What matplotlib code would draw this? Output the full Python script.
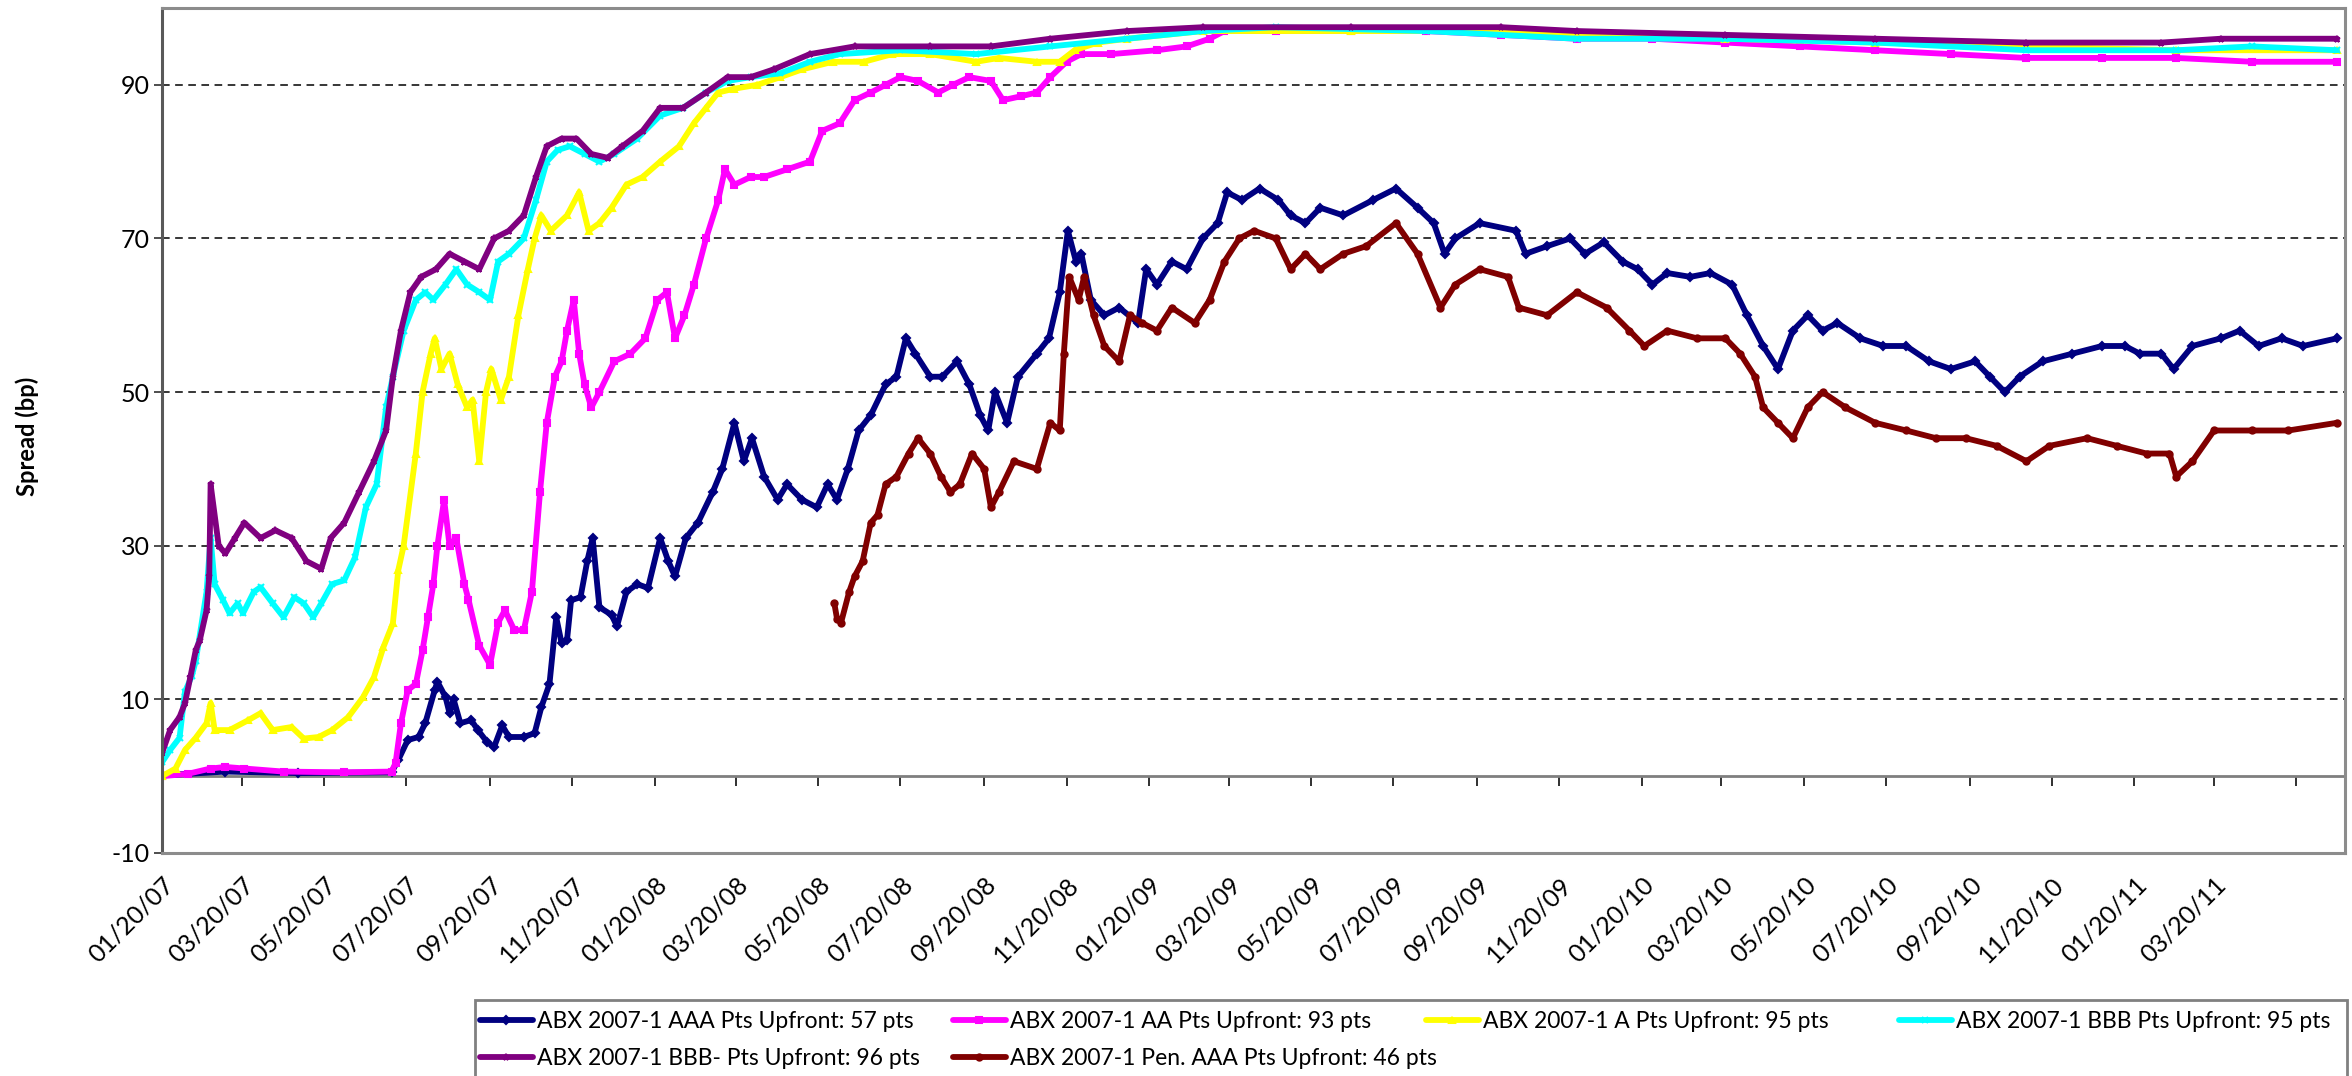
import matplotlib
matplotlib.use('Agg')
import matplotlib.pyplot as plt
import matplotlib.dates as mdates
from matplotlib.patches import Rectangle
import pandas as pd

plt.rcParams['font.family'] = ['Lato', 'DejaVu Sans']
plt.rcParams['axes.unicode_minus'] = False

# ABX 2007-1 price drop (pts upfront)
aaa_dates = ['2007-01-20', '2007-03-08', '2007-05-01', '2007-07-09', '2007-07-14', '2007-07-21',
             '2007-07-29', '2007-08-03', '2007-08-10', '2007-08-12', '2007-08-18', '2007-08-21',
             '2007-08-24', '2007-08-29', '2007-09-06', '2007-09-11', '2007-09-18', '2007-09-23',
             '2007-09-29', '2007-10-04', '2007-10-15', '2007-10-23', '2007-10-28', '2007-11-03',
             '2007-11-08', '2007-11-12', '2007-11-16', '2007-11-19', '2007-11-26', '2007-12-01',
             '2007-12-05', '2007-12-10', '2007-12-19', '2007-12-23', '2007-12-30', '2008-01-07',
             '2008-01-15', '2008-01-24', '2008-01-30', '2008-02-04', '2008-02-12', '2008-02-21',
             '2008-03-03', '2008-03-10', '2008-03-19', '2008-03-26', '2008-04-01', '2008-04-10',
             '2008-04-20', '2008-04-27', '2008-05-08', '2008-05-19', '2008-05-27', '2008-06-03',
             '2008-06-11', '2008-06-19', '2008-06-28', '2008-07-09', '2008-07-17', '2008-07-24',
             '2008-07-31', '2008-08-11', '2008-08-20', '2008-08-31', '2008-09-09', '2008-09-17',
             '2008-09-23', '2008-09-28', '2008-10-07', '2008-10-15', '2008-10-29', '2008-11-07',
             '2008-11-15', '2008-11-21', '2008-11-27', '2008-12-01', '2008-12-08', '2008-12-18',
             '2008-12-29', '2009-01-12', '2009-01-18', '2009-01-26', '2009-02-06', '2009-02-17',
             '2009-03-01', '2009-03-12', '2009-03-19', '2009-03-30', '2009-04-12', '2009-04-26',
             '2009-05-05', '2009-05-16', '2009-05-27', '2009-06-13', '2009-07-05', '2009-07-22',
             '2009-08-07', '2009-08-19', '2009-08-27', '2009-09-04', '2009-09-22', '2009-10-19',
             '2009-10-26', '2009-11-11', '2009-11-28', '2009-12-09', '2009-12-23', '2010-01-06',
             '2010-01-17', '2010-01-28', '2010-02-08', '2010-02-25', '2010-03-12', '2010-03-28',
             '2010-04-08', '2010-04-20', '2010-05-01', '2010-05-12', '2010-05-23', '2010-06-03',
             '2010-06-14', '2010-07-01', '2010-07-18', '2010-08-04', '2010-08-21', '2010-09-06',
             '2010-09-24', '2010-10-05', '2010-10-16', '2010-10-27', '2010-11-13', '2010-12-05',
             '2010-12-27', '2011-01-13', '2011-01-24', '2011-02-09', '2011-02-18', '2011-03-04',
             '2011-03-25', '2011-04-08', '2011-04-22', '2011-05-09', '2011-05-25', '2011-06-19']
aaa_vals = [0.1, 0.6, 0.4, 0.5, 2.1, 4.7, 5.1, 6.9, 11.2, 12.3, 10.3, 8.2,
            10, 6.9, 7.3, 6.0, 4.4, 3.8, 6.6, 5.1, 5.1, 5.6, 9, 12,
            20.7, 17.3, 17.7, 22.9, 23.3, 28, 31, 22, 21, 19.5, 24, 25,
            24.5, 31, 28, 26, 31, 33, 37, 40, 46, 41, 44, 39,
            36, 38, 36, 35, 38, 36, 40, 45, 47, 51, 52, 57,
            55, 52, 52, 54, 51, 47, 45, 50, 46, 52, 55, 57,
            63, 71, 67, 68, 62, 60, 61, 59, 66, 64, 67, 66,
            70, 72, 76, 75, 76.5, 75, 73, 72, 74, 73, 75, 76.5,
            74, 72, 68, 70, 72, 71, 68, 69, 70, 68, 69.5, 67,
            66, 64, 65.5, 65, 65.5, 64, 60, 56, 53, 58, 60, 58,
            59, 57, 56, 56, 54, 53, 54, 52, 50, 52, 54, 55,
            56, 56, 55, 55, 53, 56, 57, 58, 56, 57, 56, 57]

aa_dates = ['2007-01-20', '2007-02-08', '2007-02-25', '2007-03-08', '2007-03-22', '2007-04-20',
            '2007-06-04', '2007-07-09', '2007-07-12', '2007-07-16', '2007-07-21', '2007-07-27',
            '2007-08-01', '2007-08-05', '2007-08-09', '2007-08-12', '2007-08-17', '2007-08-21',
            '2007-08-26', '2007-09-01', '2007-09-04', '2007-09-12', '2007-09-20', '2007-09-26',
            '2007-10-01', '2007-10-08', '2007-10-15', '2007-10-21', '2007-10-27', '2007-11-01',
            '2007-11-07', '2007-11-12', '2007-11-16', '2007-11-21', '2007-11-25', '2007-11-29',
            '2007-12-04', '2007-12-10', '2007-12-21', '2008-01-02', '2008-01-13', '2008-01-22',
            '2008-01-29', '2008-02-04', '2008-02-11', '2008-02-18', '2008-02-27', '2008-03-07',
            '2008-03-12', '2008-03-19', '2008-03-31', '2008-04-10', '2008-04-27', '2008-05-14',
            '2008-05-23', '2008-06-05', '2008-06-16', '2008-06-28', '2008-07-09', '2008-07-20',
            '2008-08-02', '2008-08-17', '2008-08-28', '2008-09-09', '2008-09-25', '2008-10-04',
            '2008-10-17', '2008-10-29', '2008-11-08', '2008-11-20', '2008-12-01', '2008-12-23',
            '2009-01-26', '2009-02-17', '2009-03-06', '2009-03-17', '2009-04-24', '2009-06-19',
            '2009-08-13', '2009-10-08', '2009-12-03', '2010-01-28', '2010-03-23', '2010-05-17',
            '2010-07-12', '2010-09-06', '2010-11-01', '2010-12-27', '2011-02-20', '2011-04-17',
            '2011-06-19']
aa_vals = [0, 0.3, 1.0, 1.2, 1.0, 0.6, 0.5, 0.6, 1.7, 6.9, 11.2, 12,
           16.4, 20.7, 25, 30, 36, 30, 31, 25, 23, 17, 14.5, 20,
           21.6, 19, 19, 24, 37, 46, 52, 54, 58, 62, 55, 51,
           48, 50, 54, 55, 57, 62, 63, 57, 60, 64, 70, 75,
           79, 77, 78, 78, 79, 80, 84, 85, 88, 89, 90, 91,
           90.5, 89, 90, 91, 90.5, 88, 88.5, 89, 91, 93, 94, 94,
           94.5, 95, 96, 97, 97, 97, 97, 96.5, 96, 96, 95.5, 95,
           94.5, 94, 93.5, 93.5, 93.5, 93, 93]

a_dates = ['2007-01-20', '2007-01-30', '2007-02-06', '2007-02-14', '2007-02-22', '2007-02-25',
           '2007-02-28', '2007-03-11', '2007-03-25', '2007-04-03', '2007-04-12', '2007-04-26',
           '2007-05-05', '2007-05-16', '2007-05-26', '2007-06-07', '2007-06-18', '2007-06-26',
           '2007-07-03', '2007-07-10', '2007-07-14', '2007-07-18', '2007-07-27', '2007-08-01',
           '2007-08-07', '2007-08-10', '2007-08-15', '2007-08-21', '2007-08-27', '2007-09-03',
           '2007-09-07', '2007-09-12', '2007-09-17', '2007-09-21', '2007-09-28', '2007-10-04',
           '2007-10-11', '2007-10-18', '2007-10-23', '2007-10-28', '2007-11-04', '2007-11-16',
           '2007-11-25', '2007-12-02', '2007-12-10', '2007-12-19', '2007-12-30', '2008-01-11',
           '2008-01-24', '2008-02-07', '2008-02-18', '2008-02-27', '2008-03-07', '2008-03-19',
           '2008-04-05', '2008-04-22', '2008-05-08', '2008-05-31', '2008-06-23', '2008-07-14',
           '2008-08-11', '2008-09-14', '2008-10-01', '2008-10-29', '2008-11-15', '2008-11-26',
           '2008-12-13', '2009-01-04', '2009-03-01', '2009-06-19', '2009-10-08', '2009-12-03',
           '2010-03-23', '2010-07-12', '2010-11-01', '2011-02-20', '2011-06-19']
a_vals = [0, 1, 3.4, 5, 6.9, 9.5, 6, 6, 7.3, 8.2, 6, 6.4,
          4.9, 5.1, 6, 7.7, 10.3, 12.9, 16.8, 19.9, 26.8, 30, 42, 50,
          55, 57, 53, 55, 51, 48, 49, 41, 50, 53, 49, 52,
          60, 66, 70, 73, 71, 73, 76, 71, 72, 74, 77, 78,
          80, 82, 85, 87, 89, 89.5, 90, 91, 92, 93, 93, 94,
          94, 93, 93.5, 93, 93, 94.5, 95.5, 96, 97, 97, 97, 96.5,
          96, 95.5, 95, 94.5, 94.5]

bbb_dates = ['2007-01-20', '2007-01-26', '2007-02-02', '2007-02-06', '2007-02-11', '2007-02-14',
             '2007-02-22', '2007-02-25', '2007-02-28', '2007-03-06', '2007-03-11', '2007-03-17',
             '2007-03-21', '2007-03-29', '2007-04-03', '2007-04-12', '2007-04-20', '2007-04-28',
             '2007-05-05', '2007-05-12', '2007-05-18', '2007-05-26', '2007-06-04', '2007-06-12',
             '2007-06-20', '2007-06-28', '2007-07-05', '2007-07-10', '2007-07-18', '2007-07-27',
             '2007-08-03', '2007-08-09', '2007-08-18', '2007-08-26', '2007-09-03', '2007-09-12',
             '2007-09-20', '2007-09-26', '2007-10-04', '2007-10-15', '2007-10-24', '2007-11-01',
             '2007-11-09', '2007-11-18', '2007-11-29', '2007-12-10', '2007-12-21', '2008-01-07',
             '2008-01-24', '2008-02-10', '2008-02-27', '2008-03-14', '2008-03-31', '2008-04-22',
             '2008-05-14', '2008-06-05', '2008-07-20', '2008-09-14', '2008-11-08', '2009-01-04',
             '2009-03-01', '2009-04-24', '2009-08-13', '2009-12-03', '2010-03-23', '2010-07-12',
             '2010-11-01', '2011-02-20', '2011-04-17', '2011-06-19']
bbb_vals = [1.8, 3.4, 5, 11, 13, 15, 24, 31, 25, 23, 21.2, 22.5,
            21.2, 24, 24.6, 22.5, 20.7, 23.3, 22.5, 20.7, 22.5, 25, 25.5, 28.5,
            35, 38, 48, 52, 58, 62, 63, 62, 64, 66, 64, 63,
            62, 67, 68, 70, 75, 80, 81.5, 82, 81, 80, 81, 83,
            86, 87, 89, 90.5, 91, 91.5, 93, 94, 94.5, 94, 95, 96,
            97, 97.5, 97, 96, 96, 95.5, 94.5, 94.5, 95, 94.5]

bbbm_dates = ['2007-01-20', '2007-01-26', '2007-02-02', '2007-02-06', '2007-02-10', '2007-02-14',
              '2007-02-17', '2007-02-22', '2007-02-24', '2007-02-25', '2007-03-03', '2007-03-08',
              '2007-03-15', '2007-03-22', '2007-04-03', '2007-04-14', '2007-04-26', '2007-05-07',
              '2007-05-18', '2007-05-25', '2007-06-04', '2007-06-15', '2007-06-26', '2007-07-05',
              '2007-07-10', '2007-07-16', '2007-07-23', '2007-07-31', '2007-08-11', '2007-08-21',
              '2007-09-01', '2007-09-12', '2007-09-23', '2007-10-04', '2007-10-15', '2007-10-24',
              '2007-11-01', '2007-11-12', '2007-11-23', '2007-12-04', '2007-12-16', '2007-12-27',
              '2008-01-11', '2008-01-24', '2008-02-10', '2008-02-27', '2008-03-14', '2008-03-31',
              '2008-04-17', '2008-05-14', '2008-06-16', '2008-08-11', '2008-09-25', '2008-11-08',
              '2009-01-04', '2009-03-01', '2009-06-19', '2009-10-08', '2009-12-03', '2010-03-23',
              '2010-07-12', '2010-11-01', '2011-02-09', '2011-03-25', '2011-06-19']
bbbm_vals = [3, 6, 7.7, 9.5, 12.9, 16.4, 17.7, 21.6, 26, 38, 30, 29,
             31, 33, 31, 32, 31, 28, 27, 31, 33, 37, 41, 45,
             52, 58, 63, 65, 66, 68, 67, 66, 70, 71, 73, 78,
             82, 83, 83, 81, 80.5, 82, 84, 87, 87, 89, 91, 91,
             92, 94, 95, 95, 95, 96, 97, 97.5, 97.5, 97.5, 97, 96.5,
             96, 95.5, 95.5, 96, 96]

pen_dates = ['2008-06-01', '2008-06-03', '2008-06-06', '2008-06-12', '2008-06-16', '2008-06-22',
             '2008-06-28', '2008-07-03', '2008-07-09', '2008-07-17', '2008-07-26', '2008-08-02',
             '2008-08-11', '2008-08-19', '2008-08-26', '2008-09-02', '2008-09-11', '2008-09-20',
             '2008-09-25', '2008-10-01', '2008-10-12', '2008-10-29', '2008-11-08', '2008-11-15',
             '2008-11-18', '2008-11-22', '2008-11-29', '2008-12-03', '2008-12-10', '2008-12-18',
             '2008-12-29', '2009-01-06', '2009-01-15', '2009-01-26', '2009-02-06', '2009-02-23',
             '2009-03-06', '2009-03-17', '2009-03-28', '2009-04-08', '2009-04-24', '2009-05-05',
             '2009-05-16', '2009-05-27', '2009-06-13', '2009-06-30', '2009-07-22', '2009-08-07',
             '2009-08-24', '2009-09-04', '2009-09-22', '2009-10-13', '2009-10-21', '2009-11-11',
             '2009-12-03', '2009-12-25', '2010-01-11', '2010-01-22', '2010-02-08', '2010-03-02',
             '2010-03-23', '2010-04-03', '2010-04-14', '2010-04-20', '2010-05-01', '2010-05-12',
             '2010-05-23', '2010-06-03', '2010-06-20', '2010-07-12', '2010-08-04', '2010-08-26',
             '2010-09-17', '2010-10-10', '2010-11-01', '2010-11-18', '2010-12-16', '2011-01-07',
             '2011-01-29', '2011-02-15', '2011-02-20', '2011-03-04', '2011-03-20', '2011-04-17',
             '2011-05-14', '2011-06-19']
pen_vals = [22.5, 20.5, 20, 24, 26, 28, 33, 34, 38, 39, 42, 44,
            42, 39, 37, 38, 42, 40, 35, 37, 41, 40, 46, 45,
            55, 65, 62, 65, 60, 56, 54, 60, 59, 58, 61, 59,
            62, 67, 70, 71, 70, 66, 68, 66, 68, 69, 72, 68,
            61, 64, 66, 65, 61, 60, 63, 61, 58, 56, 58, 57,
            57, 55, 52, 48, 46, 44, 48, 50, 48, 46, 45, 44,
            44, 43, 41, 43, 44, 43, 42, 42, 39, 41, 45, 45,
            45, 46]

labels = ['ABX 2007-1 AAA Pts Upfront: 57 pts', 'ABX 2007-1 AA Pts Upfront: 93 pts',
          'ABX 2007-1 A Pts Upfront: 95 pts', 'ABX 2007-1 BBB Pts Upfront: 95 pts',
          'ABX 2007-1 BBB- Pts Upfront: 96 pts', 'ABX 2007-1 Pen. AAA Pts Upfront: 46 pts']
colors = ['#000080', '#FF00FF', '#FFFF00', '#00FFFF', '#800080', '#800000']
markers = ['D', 's', '^', 'x', '*', 'o']

tick_labels = ['01/20/07', '03/20/07', '05/20/07', '07/20/07', '09/20/07', '11/20/07',
               '01/20/08', '03/20/08', '05/20/08', '07/20/08', '09/20/08', '11/20/08',
               '01/20/09', '03/20/09', '05/20/09', '07/20/09', '09/20/09', '11/20/09',
               '01/20/10', '03/20/10', '05/20/10', '07/20/10', '09/20/10', '11/20/10',
               '01/20/11', '03/20/11', '']

all_series = [(aaa_dates, aaa_vals), (aa_dates, aa_vals), (a_dates, a_vals),
              (bbb_dates, bbb_vals), (bbbm_dates, bbbm_vals), (pen_dates, pen_vals)]

ymin, ymax = -10, 100
W, H = 2352, 1076
fig = plt.figure(figsize=(W / 100, H / 100), dpi=100)
ax = fig.add_axes([162 / W, 1 - 853 / H, (2345 - 162) / W, (853 - 8) / H])

lines = []
for (d, v), lab, c, m in zip(all_series, labels, colors, markers):
    ln, = ax.plot(pd.to_datetime(d), v, color=c, lw=4.2, marker=m, ms=4.5, mec=c, mfc=c,
                  mew=1.5, label=lab, solid_joinstyle='round', solid_capstyle='round')
    lines.append(ln)

ax.set_ylim(ymin, ymax)
ax.set_xlim(pd.Timestamp('2007-01-20'), pd.Timestamp('2011-06-25'))
ax.set_yticks([-10, 10, 30, 50, 70, 90])
ax.yaxis.grid(True, linestyle=(0, (5, 3.6)), color='black', lw=1.1)
ax.set_axisbelow(True)
ax.tick_params(axis='y', direction='out', length=6, width=1.3, color='#404040',
               labelsize=18, pad=3)

tick_dates = pd.date_range('2007-01-20', '2011-05-20', freq=pd.DateOffset(months=2))
tick_nums = mdates.date2num(tick_dates)
ax.set_xticks(tick_nums)
ax.set_xticklabels(tick_labels, rotation=45, ha='right', rotation_mode='anchor')
ax.tick_params(axis='x', length=0, labelsize=18, pad=14)

for s in ax.spines.values():
    s.set_color('#8c8c8c')
    s.set_linewidth(2.2)
ax.spines['left'].set_color('#595959')

# category axis crosses at y = 0
sec = ax.secondary_xaxis((0 - ymin) / (ymax - ymin))
sec.set_xticks(tick_nums)
sec.tick_params(axis='x', direction='out', length=7, width=1.4, color='#303030',
                labelbottom=False)
sec.spines['bottom'].set_color('#7f7f7f')
sec.spines['bottom'].set_linewidth(2.0)

fig.text(27 / W, 1 - 436 / H, 'Spread (bp)', rotation=90, fontsize=17,
         fontweight='bold', ha='center', va='center')

# legend: four equal-width columns inside one box
box_left, box_right, box_top = 475, 2347, 1000
fig.patches.append(Rectangle((box_left / W, -0.05), (box_right - box_left) / W,
                             1 - box_top / H + 0.05, transform=fig.transFigure,
                             fill=False, edgecolor='#808080', lw=2))
col_x = [480, 953, 1426, 1899]
columns = [[0, 4], [1, 5], [2], [3]]
for x, idx in zip(col_x, columns):
    fig.legend([lines[i] for i in idx], [labels[i] for i in idx], loc='upper left',
               bbox_to_anchor=(x / W, 1 - 1011 / H), bbox_transform=fig.transFigure,
               fontsize=16.5, frameon=False, handlelength=2.3, handletextpad=0.2,
               borderaxespad=0, borderpad=0, labelspacing=0.69)

fig.savefig('out.png', dpi=100)
